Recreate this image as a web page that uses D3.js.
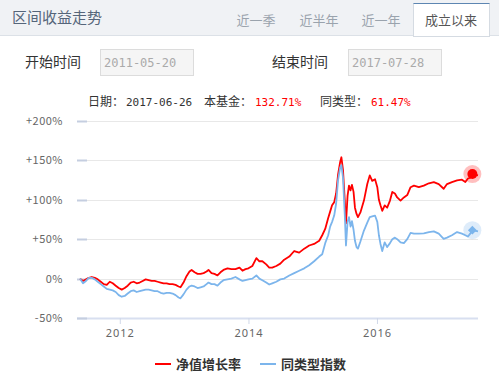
<!DOCTYPE html>
<html>
<head>
<meta charset="utf-8">
<script src="https://cdn.jsdelivr.net/npm/d3@7"></script>
<style>
  body { margin: 0; background: #fff; }
  svg { display: block; font-family: "Noto Sans CJK SC", "Noto Sans", sans-serif; }
</style>
</head>
<body>
<div id="chart"></div>
<script>
// values (percent growth since 2011-05-20)
const dates = [
  '2011-05-20','2011-06-06','2011-06-23','2011-07-09','2011-07-26','2011-08-12','2011-08-29','2011-09-15',
  '2011-10-02','2011-10-19','2011-11-05','2011-11-22','2011-12-09','2011-12-26','2012-01-12','2012-01-29',
  '2012-02-15','2012-03-03','2012-03-20','2012-04-06','2012-04-23','2012-05-10','2012-05-27','2012-06-13',
  '2012-06-30','2012-07-17','2012-08-03','2012-08-20','2012-09-06','2012-09-23','2012-10-10','2012-10-27',
  '2012-11-13','2012-11-30','2012-12-11','2012-12-28','2013-01-14','2013-01-31','2013-02-12','2013-03-01',
  '2013-03-18','2013-04-04','2013-04-21','2013-05-08','2013-05-19','2013-06-05','2013-06-22','2013-07-09',
  '2013-07-26','2013-08-12','2013-09-04','2013-09-26','2013-10-19','2013-11-11','2013-11-28','2013-12-15',
  '2014-01-01','2014-01-23','2014-02-15','2014-03-04','2014-03-21','2014-04-12','2014-04-29','2014-05-16',
  '2014-06-08','2014-07-01','2014-07-23','2014-08-21','2014-09-18','2014-10-16','2014-11-14','2014-12-12',
  '2015-01-09','2015-02-07','2015-02-24','2015-03-13','2015-03-30','2015-04-10','2015-04-21','2015-05-03',
  '2015-05-14','2015-05-25','2015-06-06','2015-06-13','2015-06-22','2015-07-02','2015-07-09','2015-07-18',
  '2015-07-26','2015-08-04','2015-08-12','2015-08-21','2015-08-29','2015-09-07','2015-09-15','2015-09-29',
  '2015-10-19','2015-11-07','2015-11-21','2015-12-05','2015-12-21','2016-01-03','2016-01-12','2016-01-21',
  '2016-01-31','2016-02-14','2016-02-28','2016-03-15','2016-03-28','2016-04-12','2016-04-25','2016-05-14',
  '2016-06-02','2016-06-21','2016-07-10','2016-07-29','2016-08-26','2016-09-23','2016-10-22','2016-11-19',
  '2016-12-17','2017-01-14','2017-02-02','2017-03-02','2017-03-31','2017-04-28','2017-05-17','2017-06-01',
  '2017-06-14','2017-06-26','2017-07-28'
];
const fundValues = [
  0,-3,-1,1,2,1,-1,-4, -7,-8,-4,-6,-9,-12,-14,-12,
  -9,-5,-4,-6,-5,-3,-1,-2, -3,-3,-4,-5,-6,-6,-7,-7,
  -8,-10,-11,-5,3,9,11,8, 6,6,7,9,11,7,6,4,
  8,11,13,12,12,14,10,12, 13,16,26,22,22,18,14,14,
  16,19,24,28,35,33,38,42, 44,48,55,63,77,85,93,97,
  108,132,148,154,138,100,70,105, 118,112,119,110,90,82,78,84,
  99,120,131,124,126,116,100,93, 86,93,90,99,110,108,103,99,
  103,106,116,118,116,118,121,122.5, 120,114,120,122.5,124.6,125.5,122.5,127,
  128,132.71,131
];
const peerValues = [
  0,-6,-3,1,1,-1,-4,-7, -10,-13,-14,-15,-17,-21,-23,-22,
  -19,-16,-15,-17,-16,-15,-14,-14, -15,-16,-16,-18,-19,-18,-18,-19,
  -21,-24,-25,-20,-14,-10,-9,-10, -12,-11,-10,-7,-5,-7,-7,-9,
  -5,-2,-1,0,2,-1,-3,-2, -1,0,4,0,-2,-5,-7.5,-6,
  -4,-1,0,4,7,10,13,17, 22,28,31,45,55,66,72,80,
  95,125,141,144,128,82,42,72, 78,66,73,62,48,40,38,47,
  61,71,78,79,80,72,55,44, 35,46,40,45,50,52,50,46,
  45,50,58,57,57,57.5,59,60, 57,50.5,52,55,59,57,55,53.4,
  57,61.47,60
];
const seriesNames = ['净值增长率', '同类型指数'];
const yTicks = [-50, 0, 50, 100, 150, 200];
const xTickDates = ['2012-01-01', '2014-01-01', '2016-01-01'];
const tabs = ['近一季', '近半年', '近一年', '成立以来'];
const startDate = '2011-05-20';
const endDate = '2017-07-28';
const hoverIndex = dates.indexOf('2017-06-26');

const width = 499;
const height = 376;
const plot = { left: 80, right: 478, top: 121, bottom: 318 };
const red = '#ff0000';
const blue = '#7cb5ec';

const parse = d3.timeParse('%Y-%m-%d');
const rows = dates.map((d, i) => ({ date: parse(d), fund: fundValues[i], peer: peerValues[i] }));

const svg = d3.select('#chart').append('svg')
  .attr('width', width)
  .attr('height', height);

// header bar with tabs
svg.append('rect').attr('x', 0).attr('y', 0).attr('width', width).attr('height', 36).attr('fill', '#f0f2f5');
svg.append('line').attr('x1', 0).attr('x2', width).attr('y1', 35.5).attr('y2', 35.5).attr('stroke', '#dce1e7');
svg.append('text').attr('x', 12).attr('y', 23).attr('font-size', 15).attr('fill', '#55657a').text('区间收益走势');

const tabCenters = [256, 319, 381, 451];
svg.append('rect').attr('x', 413.5).attr('y', 3.5).attr('width', 76).attr('height', 33)
  .attr('fill', '#fff').attr('stroke', '#d5dbe2');
svg.append('line').attr('x1', 413.5).attr('x2', 489.5).attr('y1', 3.5).attr('y2', 3.5).attr('stroke', '#5d86b2');
svg.selectAll('.tab').data(tabs).join('text')
  .attr('class', 'tab')
  .attr('x', (d, i) => tabCenters[i])
  .attr('y', 25)
  .attr('text-anchor', 'middle')
  .attr('font-size', 13)
  .attr('fill', (d, i) => i === 3 ? '#555' : '#9aa3ad')
  .text((d) => d);

// date range row
function dateField(label, lx, bx, value) {
  svg.append('text').attr('x', lx).attr('y', 67).attr('font-size', 14).attr('fill', '#333').text(label);
  svg.append('rect').attr('x', bx + 0.5).attr('y', 49.5).attr('width', 93).attr('height', 26)
    .attr('fill', '#f5f5f5').attr('stroke', '#dcdcdc');
  svg.append('text').attr('x', bx + 4).attr('y', 66.5).attr('font-size', 12)
    .attr('font-family', 'DejaVu Sans Mono, monospace').attr('fill', '#aaa').text(value);
}
dateField('开始时间', 25, 100, startDate);
dateField('结束时间', 272, 348, endDate);

// hover info line
const fmtPct = (v) => d3.format('.2f')(v) + '%';
const info = [
  { x: 88, text: '日期：', cjk: true, color: '#333' },
  { x: 126, text: dates[hoverIndex], cjk: false, color: '#333' },
  { x: 204, text: '本基金：', cjk: true, color: '#333' },
  { x: 255, text: fmtPct(fundValues[hoverIndex]), cjk: false, color: red },
  { x: 320, text: '同类型：', cjk: true, color: '#333' },
  { x: 371, text: fmtPct(peerValues[hoverIndex]), cjk: false, color: red },
];
svg.selectAll('.info').data(info).join('text')
  .attr('class', 'info')
  .attr('x', (d) => d.x)
  .attr('y', 106)
  .attr('font-size', (d) => d.cjk ? 12 : 11)
  .attr('font-family', (d) => d.cjk ? null : 'DejaVu Sans Mono, monospace')
  .attr('fill', (d) => d.color)
  .text((d) => d.text);

// scales
const xScale = d3.scaleTime()
  .domain([parse(startDate), parse(endDate)])
  .range([plot.left, plot.right]);
const yScale = d3.scaleLinear()
  .domain([-50, 200])
  .range([plot.bottom, plot.top]);

// gridlines
const grid = svg.append('g');
grid.selectAll('line').data(yTicks).join('line')
  .attr('x1', 77).attr('x2', plot.right)
  .attr('y1', (d) => Math.round(yScale(d)) + 0.5)
  .attr('y2', (d) => Math.round(yScale(d)) + 0.5)
  .attr('stroke', (d) => d === -50 ? '#d8dff0' : '#e8e8e8')
  .attr('stroke-width', (d) => d === -50 ? 2 : 1);
grid.selectAll('.mark').data(yTicks).join('line')
  .attr('class', 'mark')
  .attr('x1', 77).attr('x2', 87)
  .attr('y1', (d) => Math.round(yScale(d)) + 0.5)
  .attr('y2', (d) => Math.round(yScale(d)) + 0.5)
  .attr('stroke', '#c5cee0')
  .attr('stroke-width', 2);

// y labels
svg.selectAll('.ylab').data(yTicks).join('text')
  .attr('class', 'ylab')
  .attr('x', 63)
  .attr('y', (d) => yScale(d) + 4)
  .attr('text-anchor', 'end')
  .attr('font-size', 11)
  .attr('letter-spacing', 0.5)
  .attr('fill', '#666')
  .text((d) => (d > 0 ? '+' : '') + d + '%');

// x axis ticks and labels
const xAxis = d3.axisBottom(xScale)
  .tickValues(xTickDates.map(parse))
  .tickSize(6)
  .tickFormat(d3.timeFormat('%Y'));
const xg = svg.append('g').attr('transform', `translate(0, ${plot.bottom})`).call(xAxis);
xg.select('.domain').remove();
xg.selectAll('line').attr('stroke', '#d0d8e8');
xg.selectAll('text')
  .attr('font-size', 11)
  .attr('letter-spacing', 1)
  .attr('fill', '#666')
  .attr('dy', '0.95em')
  .attr('font-family', '"Noto Sans", sans-serif');

// lines
const fundLine = d3.line().x((d) => xScale(d.date)).y((d) => yScale(d.fund));
const peerLine = d3.line().x((d) => xScale(d.date)).y((d) => yScale(d.peer));
svg.append('path').datum(rows).attr('d', fundLine)
  .attr('fill', 'none').attr('stroke', red).attr('stroke-width', 1.8).attr('stroke-linejoin', 'round');
svg.append('path').datum(rows).attr('d', peerLine)
  .attr('fill', 'none').attr('stroke', blue).attr('stroke-width', 1.8).attr('stroke-linejoin', 'round');

// hover markers
const hx = xScale(rows[hoverIndex].date);
const fy = yScale(rows[hoverIndex].fund);
const py = yScale(rows[hoverIndex].peer);
svg.append('circle').attr('cx', hx).attr('cy', fy).attr('r', 9).attr('fill', red).attr('fill-opacity', 0.25);
svg.append('circle').attr('cx', hx).attr('cy', fy).attr('r', 5).attr('fill', red);
svg.append('circle').attr('cx', hx).attr('cy', py).attr('r', 9).attr('fill', blue).attr('fill-opacity', 0.25);
svg.append('path').attr('d', d3.symbol(d3.symbolDiamond2, 50)())
  .attr('transform', `translate(${hx}, ${py})`).attr('fill', blue);

// legend
const legendX = [155, 260];
const legend = svg.selectAll('.legend').data(seriesNames).join('g')
  .attr('class', 'legend')
  .attr('transform', (d, i) => `translate(${legendX[i]}, 364)`);
legend.append('line').attr('x1', 0).attr('x2', 16).attr('y1', 0).attr('y2', 0)
  .attr('stroke', (d, i) => i === 0 ? red : blue).attr('stroke-width', 2);
legend.append('text').attr('x', 21).attr('y', 5).attr('font-size', 13).attr('font-weight', 'bold')
  .attr('fill', '#333').text((d) => d);
</script>
</body>
</html>
